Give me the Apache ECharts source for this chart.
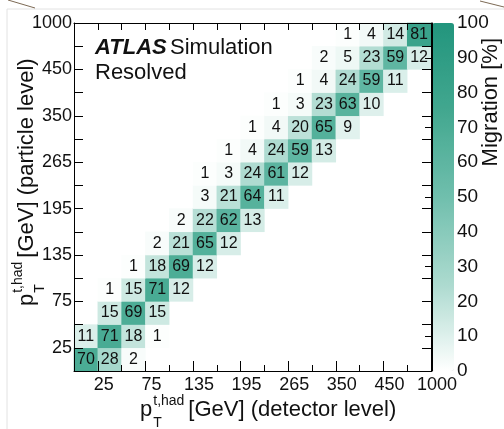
<!DOCTYPE html>
<html>
<head>
<meta charset="utf-8">
<script src="https://cdn.jsdelivr.net/npm/echarts@6/dist/echarts.min.js"></script>
<style>
  html, body { margin: 0; background: #fff; }
  #migrationChart { width: 504px; height: 429px; }
</style>
</head>
<body>
<div id="migrationChart"></div>
<script>
// particle-level bins from bottom to top: first detector-level bin that is filled, then the values [%]
const rowStart = [0, 0, 1, 1, 2, 3, 4, 5, 5, 6, 7, 8, 9, 10, 11]
const rowValues = [
  [70, 28, 2],
  [11, 71, 18, 1],
  [15, 69, 15],
  [1, 15, 71, 12],
  [1, 18, 69, 12],
  [2, 21, 65, 12],
  [2, 22, 62, 13],
  [3, 21, 64, 11],
  [1, 3, 24, 61, 12],
  [1, 4, 24, 59, 13],
  [1, 4, 20, 65, 9],
  [1, 3, 23, 63, 10],
  [1, 4, 24, 59, 11],
  [2, 5, 23, 59, 12],
  [1, 4, 14, 81]
]
// labels of every second bin edge (edge 1, 3, ... 15)
const edgeLabels = ['25', '75', '135', '195', '265', '350', '450', '1000']
const nBins = 15

const fam = '"Liberation Sans", Arial, Helvetica, sans-serif'
const bins = Array.from({ length: nBins }, (_, i) => String(i))
const labelledEdges = edgeLabels.map((_, i) => 2 * i + 1)

const cells = []
rowValues.forEach((row, r) => {
  row.forEach((v, i) => cells.push([rowStart[r] + i, r, v]))
})

const edgeFormatter = (v) => (v % 2 === 1 ? edgeLabels[(v - 1) / 2] : '')

// measure text to lay out p_T^{t,had} titles
const ctx = document.createElement('canvas').getContext('2d')
const measure = (text, size) => {
  ctx.font = `${size}px ${fam}`
  return ctx.measureText(text).width
}

const titleSize = 22
const scriptSize = 14
const axisTitle = (x, y, rotation, rest) => {
  const pW = measure('p', titleSize)
  const supW = measure('t,had', scriptSize)
  const txt = (text, tx, ty, size) => ({
    type: 'text',
    style: { text, x: tx, y: ty, font: `${size}px ${fam}`, fill: '#111', align: 'left', verticalAlign: 'middle' }
  })
  return {
    type: 'group', x, y, rotation,
    children: [
      txt('p', 0, 0, titleSize),
      txt('t,had', pW + 1, -9, scriptSize),
      txt('T', pW + 1, 13, scriptSize),
      txt(rest, pW + supW + 5, 0, titleSize)
    ]
  }
}

const gridBox = { left: 74, top: 23, right: 73, bottom: 58 }
const lineStyle = { color: '#000', width: 1 }
const labelFont = { fontSize: 18, fontFamily: fam, color: '#111' }

const option = {
  animation: false,
  grid: [
    { ...gridBox, show: false },
    { left: 432, width: 22, top: 23, bottom: 58, show: false }
  ],
  xAxis: [
    {
      type: 'category', data: bins, gridIndex: 0, z: 10,
      axisLine: { show: false },
      axisTick: { show: true, inside: true, length: 6, lineStyle },
      axisLabel: { show: false }
    },
    {
      type: 'value', gridIndex: 0, position: 'bottom', min: 0, max: nBins, interval: 1, z: 10,
      axisLine: { show: true, lineStyle },
      axisTick: { show: true, inside: true, length: 10, lineStyle, customValues: labelledEdges },
      axisLabel: { ...labelFont, formatter: edgeFormatter, margin: 5, padding: [0, 0, 0, 12] },
      splitLine: { show: false }
    },
    {
      type: 'value', gridIndex: 0, position: 'top', min: 0, max: nBins, interval: 1, z: 10,
      axisLine: { show: true, lineStyle },
      axisTick: { show: true, inside: true, length: 7, lineStyle },
      axisLabel: { show: false },
      splitLine: { show: false }
    },
    { type: 'value', gridIndex: 1, show: false, min: 0, max: 1 }
  ],
  yAxis: [
    { type: 'category', data: bins, gridIndex: 0, show: false },
    {
      type: 'value', gridIndex: 0, position: 'left', min: 0, max: nBins, interval: 1, z: 10,
      axisLine: { show: true, lineStyle },
      axisTick: { show: true, inside: true, length: 9, lineStyle },
      axisLabel: { ...labelFont, formatter: edgeFormatter, margin: 2 },
      splitLine: { show: false }
    },
    {
      type: 'value', gridIndex: 0, position: 'right', min: 0, max: nBins, interval: 1, z: 10,
      axisLine: { show: true, lineStyle },
      axisTick: { show: true, inside: true, length: 9, lineStyle },
      axisLabel: { show: false },
      splitLine: { show: false }
    },
    {
      type: 'value', gridIndex: 1, position: 'right', min: 0, max: 100, interval: 10, z: 10,
      axisLine: { show: true, lineStyle },
      axisTick: { show: true, inside: true, length: 7, lineStyle },
      axisLabel: { ...labelFont, fontSize: 19, margin: 3 },
      splitLine: { show: false }
    }
  ],
  visualMap: {
    type: 'continuous',
    seriesIndex: 0,
    min: 0,
    max: 100,
    calculable: false,
    hoverLink: false,
    left: 432,
    top: 23,
    padding: 0,
    itemWidth: 22,
    itemHeight: 348,
    text: null,
    inRange: { color: ['#ffffff', '#acdacf', '#70bfad', '#42a78f', '#22957d'] }
  },
  series: [{
    type: 'heatmap',
    xAxisIndex: 0,
    yAxisIndex: 0,
    data: cells,
    label: {
      show: true,
      formatter: (p) => p.value[2],
      fontSize: 16,
      fontFamily: fam,
      color: '#111'
    },
    emphasis: { disabled: true }
  }],
  graphic: [
    // page border left over from the source picture
    { type: 'line', shape: { x1: 7, y1: 9, x2: 504, y2: 9 }, style: { stroke: '#e2e2e2', lineWidth: 1 } },
    { type: 'line', shape: { x1: 7, y1: 9, x2: 7, y2: 429 }, style: { stroke: '#e2e2e2', lineWidth: 1 } },
    { type: 'line', shape: { x1: 8, y1: 0, x2: 35, y2: 8 }, style: { stroke: '#7d6a55', lineWidth: 1 } },
    { type: 'line', shape: { x1: 480, y1: 1, x2: 504, y2: 7 }, style: { stroke: '#7d6a55', lineWidth: 1 } },
    {
      type: 'text', x: 95, y: 48,
      style: {
        text: '{b|ATLAS} {n|Simulation}',
        verticalAlign: 'middle',
        rich: {
          b: { font: `italic bold 22px ${fam}`, fill: '#111' },
          n: { font: `22px ${fam}`, fill: '#111' }
        }
      }
    },
    { type: 'text', x: 95, y: 73, style: { text: 'Resolved', font: `22px ${fam}`, fill: '#111', verticalAlign: 'middle' } },
    axisTitle(140, 410, 0, '[GeV] (detector level)'),
    axisTitle(27, 306, Math.PI / 2, '[GeV] (particle level)'),
    {
      type: 'text', x: 491, y: 38, rotation: Math.PI / 2,
      style: { text: 'Migration [%]', font: `22px ${fam}`, fill: '#111', align: 'right', verticalAlign: 'middle' }
    }
  ]
}

const myChart = echarts.init(document.getElementById('migrationChart'))
myChart.setOption(option)
</script>
</body>
</html>
